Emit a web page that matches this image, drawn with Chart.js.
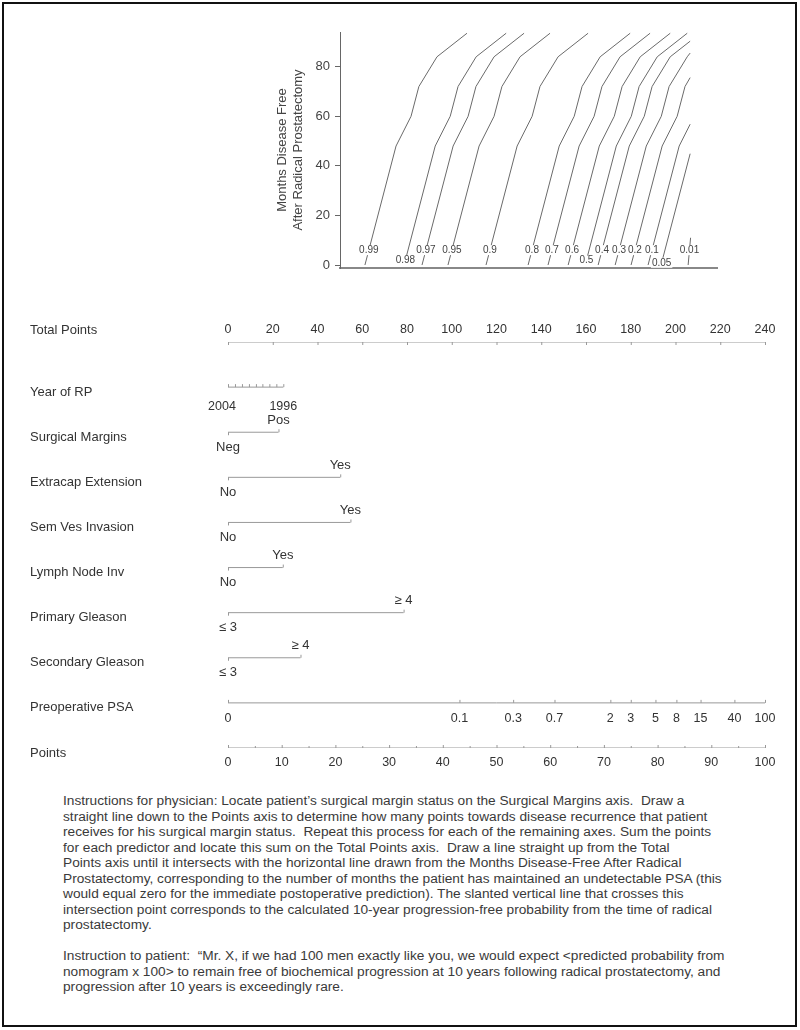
<!DOCTYPE html>
<html>
<head>
<meta charset="utf-8">
<script src="https://cdn.jsdelivr.net/npm/chart.js@4/dist/chart.umd.min.js"></script>
<style>
  body { margin: 0; background: #fff; font-family: "Liberation Sans", Arial, sans-serif; }
  #page { position: relative; width: 800px; height: 1030px; overflow: hidden; }
  #frame { position: absolute; left: 2px; top: 2px; width: 795px; height: 1025px; border: 2px solid #111; box-sizing: border-box; }
  #curves { position: absolute; left: 0; top: 0; }
  #nomo { position: absolute; left: 0; top: 300px; }
  #notes { position: absolute; left: 63px; top: 793px; font-size: 13.7px; line-height: 15.5px; color: #3a3a3a; white-space: nowrap; }
</style>
</head>
<body>
<div id="page">
  <div id="frame"></div>
  <canvas id="curves" width="800" height="300"></canvas>
  <canvas id="nomo" width="800" height="490"></canvas>
  <div id="notes">
    Instructions for physician: Locate patient’s surgical margin status on the Surgical Margins axis.&nbsp; Draw a<br>
    straight line down to the Points axis to determine how many points towards disease recurrence that patient<br>
    receives for his surgical margin status.&nbsp; Repeat this process for each of the remaining axes. Sum the points<br>
    for each predictor and locate this sum on the Total Points axis.&nbsp; Draw a line straight up from the Total<br>
    Points axis until it intersects with the horizontal line drawn from the Months Disease-Free After Radical<br>
    Prostatectomy, corresponding to the number of months the patient has maintained an undetectable PSA (this<br>
    would equal zero for the immediate postoperative prediction). The slanted vertical line that crosses this<br>
    intersection point corresponds to the calculated 10-year progression-free probability from the time of radical<br>
    prostatectomy.<br>
    <br>
    Instruction to patient:&nbsp; “Mr. X, if we had 100 men exactly like you, we would expect &lt;predicted probability from<br>
    nomogram x 100&gt; to remain free of biochemical progression at 10 years following radical prostatectomy, and<br>
    progression after 10 years is exceedingly rare.
  </div>
</div>
<script>
const family = '"Liberation Sans", Arial, sans-serif';

// top panel: probability curves (x in total points, y in months)
const probLabels = ["0.99", "0.98", "0.97", "0.95", "0.9", "0.8", "0.7", "0.6", "0.5", "0.4", "0.3", "0.2", "0.1", "0.05", "0.01"];
const curveX = [
  [61.2, 75.1, 81.8, 85.3, 93.4, 106.8],
  [78.7, 92.6, 99.3, 102.8, 110.9, 124.3],
  [86.7, 100.6, 107.3, 110.8, 118.9, 132.3],
  [98.3, 112.2, 118.9, 122.4, 130.5, 143.9],
  [115.3, 129.2, 135.9, 139.4, 147.5, 160.9],
  [134.1, 148.0, 154.7, 158.2, 166.3, 179.7],
  [143.0, 156.9, 163.6, 167.1, 175.2, 188.6],
  [152.0, 165.9, 172.6, 176.1, 184.2, 197.6],
  [159.6, 173.5, 180.2, 183.7, 191.8, 205.2],
  [165.4, 179.3, 186.0, 189.5, 197.6, 206.5],
  [173.0, 186.9, 193.6, 197.1, 205.2, 206.5],
  [180.1, 194.0, 200.7, 204.2, 206.5],
  [187.7, 201.6, 206.5],
  [193.5, 206.5],
  [205.6, 206.7]
];
const curveMonths = [
  [0, 48, 60, 72, 84, 93.5],
  [0, 48, 60, 72, 84, 93.5],
  [0, 48, 60, 72, 84, 93.5],
  [0, 48, 60, 72, 84, 93.5],
  [0, 48, 60, 72, 84, 93.5],
  [0, 48, 60, 72, 84, 93.5],
  [0, 48, 60, 72, 84, 93.5],
  [0, 48, 60, 72, 84, 93.5],
  [0, 48, 60, 72, 84, 93.5],
  [0, 48, 60, 72, 84, 90.3],
  [0, 48, 60, 72, 84, 85.5],
  [0, 48, 60, 72, 75.6],
  [0, 48, 56.8],
  [0, 44.9],
  [0, 11]
];
const labelMonths = [6, 2, 6, 6, 6, 6, 6, 6, 1.8, 6, 6, 6, 6, 0.9, 6];
const monthTicks = [0, 20, 40, 60, 80];

// lower panel: nomogram axes (x in points 0-100)
const rowNames = ["Total Points", "Year of RP", "Surgical Margins", "Extracap Extension", "Sem Ves Invasion",
  "Lymph Node Inv", "Primary Gleason", "Secondary Gleason", "Preoperative PSA", "Points"];
const totalTicks = [0, 20, 40, 60, 80, 100, 120, 140, 160, 180, 200, 220, 240];
const yearLabels = ["2004", "1996"];
const yearPoints = [0, 10.3];
const yearMinorPoints = [0, 1.3, 2.6, 3.9, 5.2, 6.4, 7.7, 9.0, 10.3];
const marginLevels = ["Neg", "Pos"];
const marginPoints = [0, 9.4];
const extracapLevels = ["No", "Yes"];
const extracapPoints = [0, 20.9];
const semVesLevels = ["No", "Yes"];
const semVesPoints = [0, 22.8];
const lymphLevels = ["No", "Yes"];
const lymphPoints = [0, 10.2];
const primaryLevels = ["≤ 3", "≥ 4"];
const primaryPoints = [0, 32.7];
const secondaryLevels = ["≤ 3", "≥ 4"];
const secondaryPoints = [0, 13.5];
const psaLabels = ["0", "0.1", "0.3", "0.7", "2", "3", "5", "8", "15", "40", "100"];
const psaPoints = [0, 43.1, 53.1, 60.8, 71.2, 75.0, 79.6, 83.5, 88.0, 94.3, 100];
const pointTicks = [0, 10, 20, 30, 40, 50, 60, 70, 80, 90, 100];
const pointMinor = [5, 15, 25, 35, 45, 55, 65, 75, 85, 95];

const binaryRows = [
  { row: 2, levels: marginLevels, pts: marginPoints },
  { row: 3, levels: extracapLevels, pts: extracapPoints },
  { row: 4, levels: semVesLevels, pts: semVesPoints },
  { row: 5, levels: lymphLevels, pts: lymphPoints },
  { row: 6, levels: primaryLevels, pts: primaryPoints },
  { row: 7, levels: secondaryLevels, pts: secondaryPoints }
];

const curveLabels = {
  id: "curveLabels",
  afterDatasetsDraw(chart) {
    const { ctx, scales: { x, y } } = chart;
    ctx.save();
    ctx.font = "10px " + family;
    ctx.textAlign = "center";
    ctx.textBaseline = "middle";
    probLabels.forEach((lab, i) => {
      const xs = curveX[i], ms = curveMonths[i];
      const m = labelMonths[i];
      const xv = xs[0] + (xs[1] - xs[0]) * (m / ms[1]);
      const px = x.getPixelForValue(xv);
      const py = y.getPixelForValue(m);
      const w = ctx.measureText(lab).width;
      ctx.fillStyle = "#fff";
      ctx.fillRect(px - w / 2 - 1, py - 5, w + 2, 10);
      ctx.fillStyle = "#444";
      ctx.fillText(lab, px, py);
    });
    ctx.restore();
  }
};

new Chart(document.getElementById("curves"), {
  type: "scatter",
  data: {
    datasets: curveX.map((xs, i) => ({
      data: xs.map((v, j) => ({ x: v, y: curveMonths[i][j] })),
      showLine: true,
      borderColor: "#6a6a6a",
      borderWidth: 1,
      pointRadius: 0
    }))
  },
  options: {
    responsive: false,
    animation: false,
    events: [],
    layout: { padding: { left: 275, right: 83, top: 32, bottom: 0 } },
    plugins: { legend: { display: false }, tooltip: { enabled: false } },
    scales: {
      x: {
        type: "linear", min: 50.06, max: 218.5,
        ticks: { display: false },
        grid: { display: false },
        border: { color: "#888", width: 2 },
        afterFit: s => { s.height = 32; }
      },
      y: {
        type: "linear", min: -1.2, max: 94,
        afterBuildTicks: s => { s.ticks = monthTicks.map(v => ({ value: v })); },
        ticks: { color: "#444", font: { size: 13, family: family }, padding: 5 },
        grid: { drawOnChartArea: false, tickLength: 5, color: "#666" },
        border: { color: "#666" },
        title: {
          display: true,
          text: ["Months Disease Free", "After Radical Prostatectomy"],
          color: "#444",
          font: { size: 13, family: family },
          padding: 0
        },
        afterFit: s => { s.width = 65; }
      }
    }
  },
  plugins: [curveLabels]
});

const nomoAxes = {
  id: "nomoAxes",
  afterDatasetsDraw(chart) {
    const { ctx, scales: { x, xt, y } } = chart;
    ctx.save();
    ctx.strokeStyle = "#999";
    ctx.lineWidth = 1;
    ctx.fillStyle = "#333";
    ctx.textBaseline = "middle";
    const tick = (px, py, len) => {
      ctx.beginPath();
      ctx.moveTo(px + 0.5, py);
      ctx.lineTo(px + 0.5, py + len);
      ctx.stroke();
    };
    // row names
    ctx.font = "13px " + family;
    ctx.textAlign = "left";
    rowNames.forEach((n, r) => {
      ctx.fillText(n, 30, y.getPixelForValue(r) + (r === 0 ? -12 : 5));
    });
    ctx.textAlign = "center";
    ctx.font = "12.5px " + family;
    // total points
    const y0 = y.getPixelForValue(0);
    totalTicks.forEach(v => {
      const px = xt.getPixelForValue(v);
      tick(px, y0, 3);
      ctx.fillText(String(v), px, y0 - 12);
    });
    // year of RP
    const y1 = y.getPixelForValue(1);
    yearMinorPoints.forEach(v => tick(x.getPixelForValue(v), y1, -3));
    yearLabels.forEach((lab, i) => ctx.fillText(lab, x.getPixelForValue(yearPoints[i]) - (i === 0 ? 6 : 0), y1 + 19));
    // binary predictors
    ctx.font = "13px " + family;
    binaryRows.forEach(b => {
      const py = y.getPixelForValue(b.row);
      const pLow = x.getPixelForValue(b.pts[0]);
      const pHigh = x.getPixelForValue(b.pts[1]);
      tick(pLow, py, 3);
      tick(pHigh, py, -3);
      ctx.fillText(b.levels[0], pLow, py + 15);
      ctx.fillText(b.levels[1], pHigh, py - 12);
    });
    // PSA
    ctx.font = "12.5px " + family;
    const y8 = y.getPixelForValue(8);
    psaLabels.forEach((lab, i) => {
      const px = x.getPixelForValue(psaPoints[i]);
      tick(px, y8, -3);
      ctx.fillText(lab, px, y8 + 16);
    });
    // points
    const y9 = y.getPixelForValue(9);
    pointMinor.forEach(v => tick(x.getPixelForValue(v), y9, -2));
    pointTicks.forEach(v => {
      const px = x.getPixelForValue(v);
      tick(px, y9, -3);
      ctx.fillText(String(v), px, y9 + 15);
    });
    ctx.restore();
  }
};

const lineStyle = { showLine: true, borderColor: "#999", borderWidth: 1, pointRadius: 0 };
const nomoSets = [
  { xAxisID: "xt", data: [{ x: totalTicks[0], y: 0 }, { x: totalTicks[totalTicks.length - 1], y: 0 }] },
  { data: [{ x: yearPoints[0], y: 1 }, { x: yearPoints[1], y: 1 }] }
].concat(binaryRows.map(b => ({ data: [{ x: b.pts[0], y: b.row }, { x: b.pts[1], y: b.row }] })))
 .concat([
  { data: [{ x: psaPoints[0], y: 8 }, { x: psaPoints[psaPoints.length - 1], y: 8 }] },
  { data: [{ x: pointTicks[0], y: 9 }, { x: pointTicks[pointTicks.length - 1], y: 9 }] }
 ]).map(d => Object.assign({}, lineStyle, d));

new Chart(document.getElementById("nomo"), {
  type: "scatter",
  data: { datasets: nomoSets },
  options: {
    responsive: false,
    animation: false,
    events: [],
    layout: { padding: { left: 228, right: 35, top: 42, bottom: 42 } },
    plugins: { legend: { display: false }, tooltip: { enabled: false } },
    scales: {
      x: { type: "linear", min: 0, max: 100, display: false },
      xt: { type: "linear", axis: "x", min: 0, max: 240, display: false },
      y: { type: "linear", min: 0, max: 9, reverse: true, display: false }
    }
  },
  plugins: [nomoAxes]
});
</script>
</body>
</html>
